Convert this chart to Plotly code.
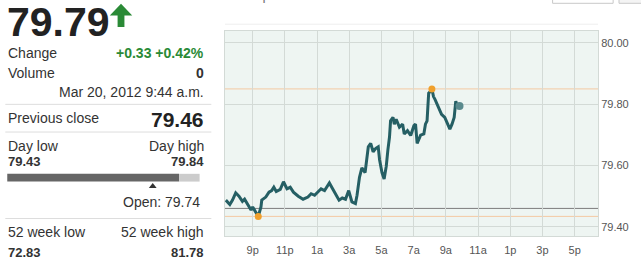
import plotly.graph_objects as go

# ---------------- data ----------------
times = [
    "2012-03-19 19:20", "2012-03-19 19:35", "2012-03-19 19:45", "2012-03-19 19:57",
    "2012-03-19 20:09", "2012-03-19 20:22", "2012-03-19 20:30", "2012-03-19 20:42",
    "2012-03-19 20:54", "2012-03-19 21:00", "2012-03-19 21:13", "2012-03-19 21:21",
    "2012-03-19 21:31", "2012-03-19 21:34", "2012-03-19 21:49", "2012-03-19 22:01",
    "2012-03-19 22:11", "2012-03-19 22:19", "2012-03-19 22:28", "2012-03-19 22:43",
    "2012-03-19 22:55", "2012-03-19 23:08", "2012-03-19 23:20", "2012-03-19 23:32",
    "2012-03-19 23:50", "2012-03-20 00:08", "2012-03-20 00:26", "2012-03-20 00:38",
    "2012-03-20 00:51", "2012-03-20 01:03", "2012-03-20 01:15", "2012-03-20 01:28",
    "2012-03-20 01:46", "2012-03-20 01:58", "2012-03-20 02:10", "2012-03-20 02:22",
    "2012-03-20 02:34", "2012-03-20 02:46", "2012-03-20 02:58", "2012-03-20 03:10",
    "2012-03-20 03:23", "2012-03-20 03:29", "2012-03-20 03:38", "2012-03-20 03:47",
    "2012-03-20 03:59", "2012-03-20 04:11", "2012-03-20 04:20", "2012-03-20 04:29",
    "2012-03-20 04:39", "2012-03-20 04:48", "2012-03-20 04:53", "2012-03-20 05:02",
    "2012-03-20 05:10", "2012-03-20 05:18", "2012-03-20 05:24", "2012-03-20 05:30",
    "2012-03-20 05:34", "2012-03-20 05:43", "2012-03-20 05:48", "2012-03-20 05:55",
    "2012-03-20 06:07", "2012-03-20 06:19", "2012-03-20 06:25", "2012-03-20 06:37",
    "2012-03-20 06:49", "2012-03-20 07:01", "2012-03-20 07:07", "2012-03-20 07:13",
    "2012-03-20 07:26", "2012-03-20 07:38", "2012-03-20 07:44", "2012-03-20 07:50",
    "2012-03-20 07:56", "2012-03-20 08:02", "2012-03-20 08:08", "2012-03-20 08:14",
    "2012-03-20 08:20", "2012-03-20 08:32", "2012-03-20 08:38", "2012-03-20 08:44",
    "2012-03-20 08:56", "2012-03-20 09:03", "2012-03-20 09:15", "2012-03-20 09:23",
    "2012-03-20 09:31", "2012-03-20 09:37", "2012-03-20 09:43", "2012-03-20 09:51",
]
prices = [
    79.487, 79.473, 79.487, 79.511, 79.500, 79.483, 79.490, 79.471,
    79.455, 79.465, 79.448, 79.434, 79.465, 79.487, 79.497, 79.513,
    79.518, 79.529, 79.515, 79.522, 79.547, 79.524, 79.529, 79.513,
    79.500, 79.490, 79.497, 79.508, 79.503, 79.513, 79.524, 79.518,
    79.543, 79.524, 79.503, 79.487, 79.494, 79.490, 79.518, 79.481,
    79.476, 79.503, 79.561, 79.592, 79.577, 79.661, 79.672, 79.645,
    79.656, 79.661, 79.619, 79.577, 79.556, 79.598, 79.651, 79.693,
    79.746, 79.757, 79.735, 79.751, 79.725, 79.735, 79.703, 79.714,
    79.698, 79.730, 79.735, 79.672, 79.699, 79.703, 79.735, 79.746,
    79.836, 79.841, 79.850, 79.825, 79.815, 79.788, 79.778, 79.767,
    79.757, 79.741, 79.719, 79.735, 79.757, 79.810, 79.794, 79.794,
]
tick_times = ["2012-03-19 21:00", "2012-03-19 23:00", "2012-03-20 01:00",
              "2012-03-20 03:00", "2012-03-20 05:00", "2012-03-20 07:00",
              "2012-03-20 09:00", "2012-03-20 11:00", "2012-03-20 13:00",
              "2012-03-20 15:00", "2012-03-20 17:00"]
tick_labels = ["9p", "11p", "1a", "3a", "5a", "7a", "9a", "11a", "1p", "3p", "5p"]
y_ticks = [79.40, 79.60, 79.80, 80.00]

last_price = "79.79"
change_txt = "+0.33 +0.42%"
volume_txt = "0"
stamp_txt = "Mar 20, 2012 9:44 a.m."
prev_close = 79.46
day_low = "79.43"
day_high = "79.84"
open_txt = "Open: 79.74"
wk52_low = "72.83"
wk52_high = "81.78"

# ---------------- figure ----------------
W, H = 641, 268
ML, MR, MT, MB = 225, 34, 31, 26
PW, PH = W - ML - MR, H - MT - MB
FONT = "Liberation Sans, Arial, Helvetica, sans-serif"
TEAL = "#255f64"
ORANGE = "#f0a02c"
GREEN = "#2a8a36"


def px(x):
    # figure pixel -> paper (plot-area relative) coordinate
    return (x - ML) / PW


def py(y):
    return (H - MB - y) / PH


fig = go.Figure()

fig.add_trace(go.Scatter(x=times, y=prices, mode="lines",
                         line=dict(color=TEAL, width=3), hoverinfo="skip"))

i_lo = prices.index(min(prices))
i_hi = prices.index(max(prices))
fig.add_trace(go.Scatter(x=[times[i_lo], times[i_hi]], y=[prices[i_lo], prices[i_hi]],
                         mode="markers", marker=dict(color=ORANGE, size=7),
                         hoverinfo="skip"))
fig.add_trace(go.Scatter(x=[times[-1]], y=[prices[-1]], mode="markers",
                         marker=dict(color="#5a8a8d", size=8), hoverinfo="skip"))

shapes = []
# reference lines in plot
for val, col in [(max(prices), "#f4c9a2"), (min(prices), "#f4c9a2"), (prev_close, "#7d7d7d")]:
    shapes.append(dict(type="line", xref="x domain", yref="y", x0=0, x1=1, y0=val, y1=val,
                       line=dict(color=col, width=1), layer="below"))
# faint line above plot
shapes.append(dict(type="line", xref="paper", yref="paper", x0=px(225), x1=px(607),
                   y0=py(24), y1=py(24), line=dict(color="#eeeeee", width=1)))
# dropdown boxes at top right (mostly cut off)
shapes.append(dict(type="rect", xref="paper", yref="paper", x0=px(560.5), x1=px(622.5),
                   y0=py(2.5), y1=py(-20), line=dict(color="#c8c8c8", width=1),
                   fillcolor="white"))
shapes.append(dict(type="rect", xref="paper", yref="paper", x0=px(628.5), x1=px(660),
                   y0=py(2.5), y1=py(-20), line=dict(color="#c8c8c8", width=1),
                   fillcolor="#f4f4f4"))
# separators in left panel
for yy in [106.5, 135, 224]:
    shapes.append(dict(type="line", xref="paper", yref="paper", x0=px(0), x1=px(211),
                       y0=py(yy), y1=py(yy), line=dict(color="#dddddd", width=1)))
# day range bar
shapes.append(dict(type="rect", xref="paper", yref="paper", x0=px(2), x1=px(178),
                   y0=py(186), y1=py(178), line=dict(width=0), fillcolor="#666666"))
shapes.append(dict(type="rect", xref="paper", yref="paper", x0=px(178), x1=px(199),
                   y0=py(186), y1=py(178), line=dict(width=0), fillcolor="#cccccc"))
# open marker triangle
shapes.append(dict(type="path", xref="paper", yref="paper",
                   path=f"M {px(147)} {py(192.5)} L {px(155)} {py(192.5)} L {px(151)} {py(187.5)} Z",
                   fillcolor="#333333", line=dict(width=0)))
# green up arrow
arrow = (f"M {px(118.5)} {py(3)} L {px(130)} {py(15)} L {px(122)} {py(15)} "
         f"L {px(122)} {py(27)} L {px(115)} {py(27)} L {px(115)} {py(15)} "
         f"L {px(107)} {py(15)} Z")
shapes.append(dict(type="path", xref="paper", yref="paper", path=arrow,
                   fillcolor=GREEN, line=dict(width=0)))

ann = []


def text(x, y, s, size=14, bold=False, color="#333333", anchor="left"):
    if bold:
        s = f"<b>{s}</b>"
    ann.append(dict(x=px(x), y=py(y), xref="paper", yref="paper", text=s,
                    showarrow=False, xanchor=anchor, yanchor="middle",
                    font=dict(family=FONT, size=size, color=color), borderpad=0))


text(1, 21.5, last_price, size=41, bold=True, color="#222222")
text(2, 54, "Change")
text(205, 54, change_txt, bold=True, color=GREEN, anchor="right")
text(2, 74, "Volume")
text(205, 74, volume_txt, bold=True, anchor="right")
text(205, 94, stamp_txt, anchor="right")
text(2, 121, "Previous close")
text(205, 122, f"{prev_close:.2f}", size=21, bold=True, color="#222222", anchor="right")
text(2, 149, "Day low")
text(205, 149, "Day high", anchor="right")
text(2, 165, day_low, size=13, bold=True)
text(205, 165, day_high, size=13, bold=True, anchor="right")
text(200, 207, open_txt, anchor="right")
text(2, 238, "52 week low")
text(205, 238, "52 week high", anchor="right")
text(2, 259, wk52_low, size=13, bold=True)
text(205, 259, wk52_high, size=13, bold=True, anchor="right")
# cut-off "Compare" header
ann.append(dict(x=px(231), y=py(-6), xref="paper", yref="paper",
                text="Compare: <span style='color:#3b78b5'>Indexes</span>",
                showarrow=False, xanchor="left", yanchor="middle",
                font=dict(family=FONT, size=14, color="#777777")))

fig.update_layout(
    width=W, height=H,
    margin=dict(l=ML, r=MR, t=MT, b=MB),
    paper_bgcolor="white", plot_bgcolor="#eef5f2",
    showlegend=False,
    shapes=shapes, annotations=ann,
    xaxis=dict(type="date", range=["2012-03-19 19:17", "2012-03-20 18:27"],
               tickvals=tick_times, ticktext=tick_labels,
               showgrid=True, gridcolor="#d3dad6", gridwidth=1,
               showline=True, linecolor="#d3dad6", mirror=True,
               zeroline=False, ticks="", ticklabelstandoff=4,
               tickfont=dict(family=FONT, size=11, color="#555555")),
    yaxis=dict(range=[79.370, 80.039], side="right", tickvals=y_ticks,
               tickformat=".2f", showgrid=True, gridcolor="#d3dad6", gridwidth=1,
               showline=True, linecolor="#d3dad6", mirror=True,
               zeroline=False, ticks="",
               tickfont=dict(family=FONT, size=11, color="#555555")),
)

fig.write_html("out.html")
